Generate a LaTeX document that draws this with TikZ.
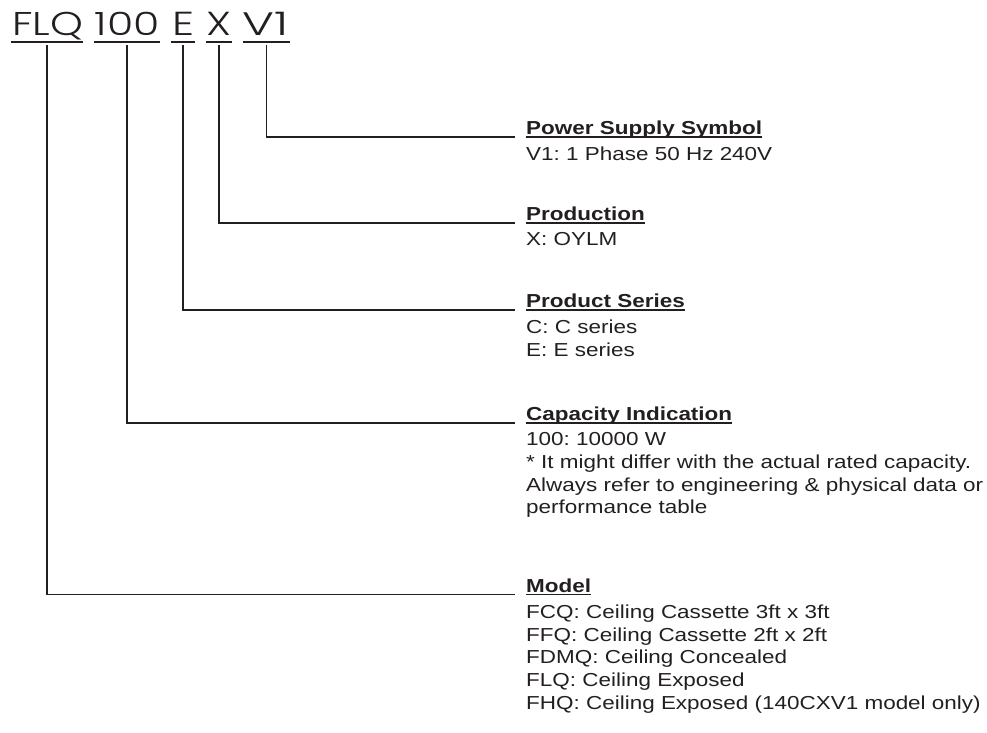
\documentclass[tikz,border=0pt]{standalone}
\usepackage{fontspec}
\setmainfont{Liberation Sans}[FakeStretch=1.195]
\newfontfamily\titlefont{Poppins Light}
\definecolor{ink}{HTML}{231F20}
\frenchspacing
\begin{document}
\begin{tikzpicture}[x=1pt,y=-1pt,
  conn/.style={draw=ink, line width=1.3pt},
  uline/.style={draw=ink, line width=1.7pt},
  hline/.style={draw=ink, line width=1.4pt},
  code/.style={font=\titlefont\fontsize{32}{32}\selectfont, text=ink, inner sep=0pt, anchor=base},
  head/.style={font=\bfseries\fontsize{18.8}{22.7}\selectfont, text=ink, inner sep=0pt, anchor=base west},
  body/.style={font=\fontsize{18.8}{22.7}\selectfont, text=ink, inner sep=0pt, anchor=north west, align=left},
]
\useasboundingbox (0,0) rectangle (987,732);

% model code
\node[code] (cFLQ) at (47.7,35) {\resizebox{71pt}{23.3pt}{FLQ}};
\node[code] (c100) at (127.2,35) {\resizebox{65pt}{23.3pt}{100}};
\node[code] (cE) at (183,35) {\resizebox{22pt}{23.3pt}{E}};
\node[code] (cX) at (218.7,35) {\resizebox{25pt}{23.3pt}{X}};
\node[code] (cV) at (265.3,35) {\resizebox{46pt}{23.3pt}{V1}};
\draw[uline] (11,41.7) -- (83,41.7);
\draw[uline] (94,41.7) -- (160,41.7);
\draw[uline] (171,41.7) -- (195,41.7);
\draw[uline] (206,41.7) -- (232,41.7);
\draw[uline] (243,41.7) -- (290,41.7);

% connector end points
\coordinate (sFLQ) at (47,45);
\coordinate (s100) at (127,45);
\coordinate (sE) at (183,45);
\coordinate (sX) at (219,45);
\coordinate (sV) at (266.3,45);
\coordinate (eV) at (515,137);
\coordinate (eX) at (515,223);
\coordinate (eE) at (515,310);
\coordinate (e100) at (515,423);
\coordinate (eFLQ) at (515,594.5);

\draw[conn] (sV) |- (eV);
\draw[conn] (sX) |- (eX);
\draw[conn] (sE) |- (eE);
\draw[conn] (s100) |- (e100);
\draw[conn] (sFLQ) |- (eFLQ);

% headings
\node[head] (hV) at (526,134.5) {Power Supply Symbol};
\node[head] (hX) at (526,220.5) {Production};
\node[head] (hE) at (526,307.5) {Product Series};
\node[head] (h100) at (526,420.5) {Capacity Indication};
\node[head] (hFLQ) at (526,592) {Model};
\foreach \h in {hV,hX,hE,h100,hFLQ}{
  \draw[hline] ([yshift=-2.5pt]\h.base west) -- ([yshift=-2.5pt]\h.base east);
}

% bodies (top = first baseline - cap height)
\node[body] (bV) at (526,146.5) {V1: 1 Phase 50 Hz 240V};
\node[body] (bX) at (526,232.5) {X: OYLM};
\node[body] (bE) at (526,319.5) {C: C series\\E: E series};
\node[body] (b100) at (526,432.5) {100: 10000 W\\* It might differ with the actual rated capacity.\\Always refer to engineering \& physical data or\\performance table};
\node[body] (bFLQ) at (526,604.5) {FCQ: Ceiling Cassette 3ft x 3ft\\FFQ: Ceiling Cassette 2ft x 2ft\\FDMQ: Ceiling Concealed\\FLQ: Ceiling Exposed\\FHQ: Ceiling Exposed (140CXV1 model only)};
\end{tikzpicture}
\end{document}
